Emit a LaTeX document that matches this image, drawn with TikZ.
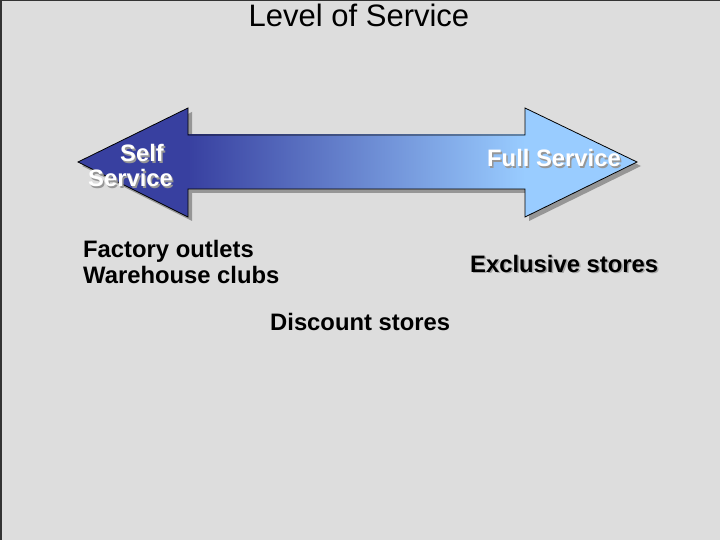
\documentclass[tikz,border=0pt]{standalone}
\usepackage{fontspec}
\setmainfont{Liberation Sans}
\definecolor{bg}{RGB}{221,221,221}
\definecolor{darkblue}{RGB}{56,64,160}
\definecolor{lightblue}{RGB}{153,204,255}
\definecolor{shadowgray}{RGB}{150,150,150}
\def\arrowpath{(78,162) -- (188,108) -- (188,135) -- (525,135) -- (525,108) -- (637,162) -- (525,217) -- (525,189) -- (188,189) -- (188,217) -- cycle}
\begin{document}
\begin{tikzpicture}[x=1pt,y=-1pt,
  lbl/.style={inner sep=0pt,font=\bfseries\fontsize{23.8}{28}\selectfont,anchor=base west},
  wlbl/.style={lbl,text=white},
  shd/.style={lbl,text=shadowgray}]
\fill[bg] (0,0) rectangle (720,540);
\useasboundingbox (0,0) rectangle (720,540);
\draw[black!80,line width=1.5pt] (0.75,540) -- (0.75,0.75) -- (720,0.75);
% shadow
\begin{scope}[shift={(4pt,-4pt)}]
\fill[shadowgray] \arrowpath;
\end{scope}
% fills
\fill[darkblue] (78,162) -- (188,108) -- (188,217) -- cycle;
\fill[lightblue] (637,162) -- (525,108) -- (525,217) -- cycle;
\shade[left color=darkblue,right color=lightblue] (188,135) rectangle (525,189);
\draw[black,line width=0.8pt,line join=miter] \arrowpath;
% title
\node[inner sep=0pt,anchor=base,font=\fontsize{31}{36}\selectfont] (title) at (359,27) {Level of Service};
% arrow texts
\node[shd] (selfs) at (121.5,163.5) {Self};
\node[shd] (servs) at (89.5,188.5) {Service};
\node[wlbl] (self) at (120,162) {Self};
\node[wlbl] (serv) at (88,187) {Service};
\node[shd] (fulls) at (488.5,168.5) {Full Service};
\node[wlbl] (full) at (487,167) {Full Service};
% store labels
\node[lbl] (factory) at (83,258) {Factory outlets};
\node[lbl] (warehouse) at (83,283) {Warehouse clubs};
\node[lbl] (discount) at (270,330) {Discount stores};
\node[shd,text=gray!70] (excls) at (471.5,273.5) {Exclusive stores};
\node[lbl] (excl) at (470,272) {Exclusive stores};
\end{tikzpicture}
\end{document}
